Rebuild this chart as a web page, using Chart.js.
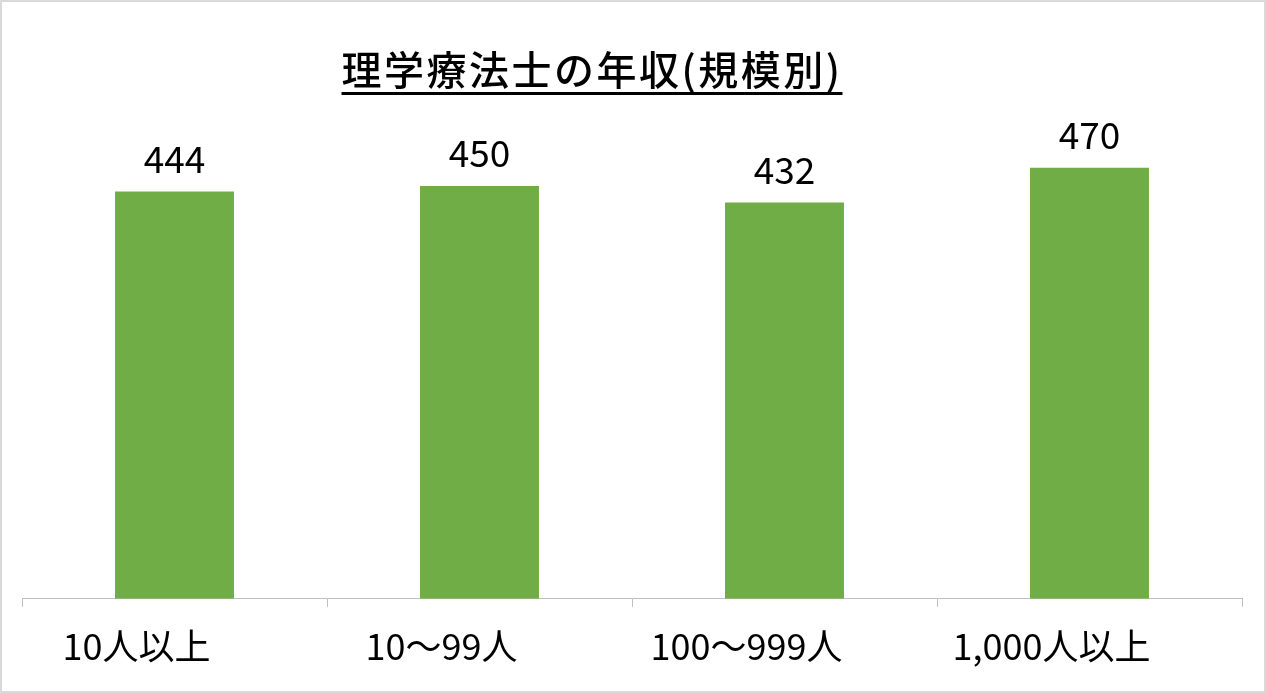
<!DOCTYPE html>
<html>
<head>
<meta charset="utf-8">
<script src="https://cdn.jsdelivr.net/npm/chart.js@4"></script>
<style>
  html, body { margin: 0; padding: 0; background: #fff; }
  #wrap { position: relative; width: 1266px; height: 693px; }
  #frame { position: absolute; left: 0; top: 0; right: 0; bottom: 0; border: 2px solid #d9d9d9; pointer-events: none; }
  canvas { display: block; }
</style>
</head>
<body>
<div id="wrap"><canvas id="salaryChart"></canvas><div id="frame"></div></div>
<script>
// 値は画像から読み取り
const categories = ['10人以上', '10〜99人', '100〜999人', '1,000人以上'];
const salaries = [444, 450, 432, 470];
const chartTitle = '理学療法士の年収(規模別)';

const FONT = '"Noto Sans CJK JP", "Noto Sans", sans-serif';

// タイトル（下線付き）を描画
const titlePlugin = {
    id: 'underlinedTitle',
    afterDraw(chart) {
        const ctx = chart.ctx;
        ctx.save();
        ctx.font = '500 40px ' + FONT;
        ctx.letterSpacing = '2.5px';
        ctx.fillStyle = '#000';
        ctx.textAlign = 'center';
        ctx.textBaseline = 'alphabetic';
        const cx = 592;
        const y = 85;
        ctx.fillText(chartTitle, cx, y);
        const w = ctx.measureText(chartTitle).width;
        ctx.fillRect(cx - w / 2, y + 7, w, 3);
        ctx.restore();
    }
};

// 棒の上に値を表示
const valueLabels = {
    id: 'valueLabels',
    afterDatasetsDraw(chart) {
        const ctx = chart.ctx;
        const meta = chart.getDatasetMeta(0);
        ctx.save();
        ctx.font = '37px ' + FONT;
        ctx.fillStyle = '#000';
        ctx.textAlign = 'center';
        ctx.textBaseline = 'alphabetic';
        meta.data.forEach((bar, i) => {
            ctx.fillText(String(salaries[i]), bar.x, bar.y - 19);
        });
        ctx.restore();
    }
};

const ctx = document.getElementById('salaryChart').getContext('2d');
new Chart(ctx, {
    type: 'bar',
    data: {
        labels: categories,
        datasets: [{
            data: salaries,
            backgroundColor: '#70AD47',
            borderWidth: 0,
            barPercentage: 0.39,
            categoryPercentage: 1.0
        }]
    },
    options: {
        responsive: true,
        maintainAspectRatio: false,
        animation: false,
        layout: { padding: { top: 98, left: 22, right: 24, bottom: 7 } },
        plugins: {
            legend: { display: false },
            title: { display: false },
            tooltip: { enabled: false }
        },
        scales: {
            y: { display: false, min: 0, max: 546 },
            x: {
                offset: true,
                grid: {
                    offset: true,
                    drawOnChartArea: false,
                    color: '#bfbfbf',
                    tickLength: 8
                },
                border: { color: '#bfbfbf', width: 1 },
                ticks: {
                    color: '#000',
                    padding: 18,
                    labelOffset: -38,
                    font: { family: FONT, size: 36 }
                }
            }
        }
    },
    plugins: [titlePlugin, valueLabels]
});
</script>
</body>
</html>
